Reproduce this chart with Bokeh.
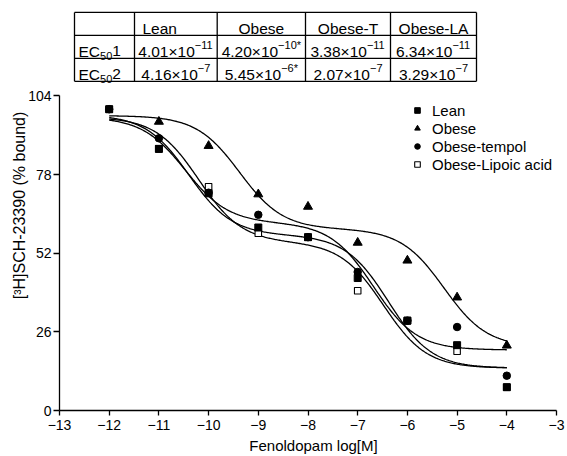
import numpy as np
from bokeh.plotting import figure
from bokeh.models import Range1d, FixedTicker, Legend, LegendItem
from bokeh.core.properties import value
from bokeh.embed import file_html
from bokeh.resources import INLINE

FONT = "Liberation Sans"
NAN = float("nan")

# ---------------- data ----------------
log_conc = [-12, -11, -10, -9, -8, -7, -6, -5, -4]
lean = [99.6, 86.5, 71.8, 60.5, 57.3, 43.8, 29.7, 21.6, 7.7]
obese = [NAN, 95.5, 87.5, 71.5, 67.4, 55.5, 49.6, 37.4, 21.5]
obese_tempol = [99.6, 90.0, 72.0, 64.7, 57.3, 45.8, 29.7, 27.6, 11.5]
obese_lipoic = [99.6, 86.5, 74.0, 58.6, 57.3, 39.6, 29.7, 19.6, 7.7]

# two-site fit parameters (Lean, Obese, Obese-T, Obese-LA)
ec50_1 = [4.01e-11, 4.20e-10, 3.38e-11, 6.34e-11]
ec50_2 = [4.16e-7, 5.45e-6, 2.07e-7, 3.29e-7]
fit_top = [97.8, 97.5, 97.0, 97.0]
fit_bottom = [14.0, 21.0, 20.0, 14.0]
fit_frac1 = [0.475, 0.49, 0.454, 0.498]
fit_range = [-12, -4]

x_ticks = [-13, -12, -11, -10, -9, -8, -7, -6, -5, -4, -3]
x_tick_labels = ["\u221213", "\u221212", "\u221211", "\u221210", "\u22129", "\u22128",
                 "\u22127", "\u22126", "\u22125", "\u22124", "\u22123"]
y_ticks = [0, 26, 52, 78, 104]

# table content
table_cols = ["Lean", "Obese", "Obese-T", "Obese-LA"]
table_rows = ["1", "2"]
ec1_mant = ["4.01", "4.20", "3.38", "6.34"]
ec1_exp = ["\u221211", "\u221210", "\u221211", "\u221211"]
ec1_mark = ["", "*", "", ""]
ec2_mant = ["4.16", "5.45", "2.07", "3.29"]
ec2_exp = ["\u22127", "\u22126", "\u22127", "\u22127"]
ec2_mark = ["", "*", "", ""]

# ---------------- layout (page pixels) ----------------
FIG_W, FIG_H = 567, 456
FRAME_LEFT, FRAME_BOTTOM = 59, 411
PX_X, PX_Y = 49.7, 3.032
X0 = -13
X1 = X0 + (FIG_W - FRAME_LEFT) / PX_X
Y1 = FRAME_BOTTOM / PX_Y

def dx(px):
    return X0 + (px - FRAME_LEFT) / PX_X

def dy(py):
    return (FRAME_BOTTOM - py) / PX_Y

p = figure(width=FIG_W, height=FIG_H, x_range=Range1d(X0, X1), y_range=Range1d(0, Y1),
           output_backend="svg", toolbar_location=None,
           min_border_left=FRAME_LEFT, min_border_right=0, min_border_top=0,
           min_border_bottom=FIG_H - FRAME_BOTTOM)
p.grid.visible = False
p.outline_line_color = None

# ---------------- table ----------------
col_px = [74, 134, 216.7, 305, 390, 476]
row_px = [12, 35, 58, 81]
BASE, SUP = 15.5, 11
AW = {".": .278, "\u00d7": .584, "\u2212": .584, "*": .389, "E": .667, "C": .722}

def tw(s, size):
    return sum(AW.get(ch, .556) for ch in s) * size

p.segment(x0=[dx(c) for c in col_px], x1=[dx(c) for c in col_px],
          y0=[dy(row_px[0])] * len(col_px), y1=[dy(row_px[-1])] * len(col_px),
          line_color="black", line_width=1.3)
p.segment(x0=[dx(col_px[0])] * len(row_px), x1=[dx(col_px[-1])] * len(row_px),
          y0=[dy(r) for r in row_px], y1=[dy(r) for r in row_px],
          line_color="black", line_width=1.3)

BL_UP = 7
base_x, base_y, base_t = [], [], []
sup_x, sup_y, sup_t = [], [], []
hdr_x = [dx((col_px[i + 1] + col_px[i + 2]) / 2) for i in range(len(table_cols))]
hdr_x[0] = dx(col_px[1] + 8)
hdr_y = [dy(row_px[1] - BL_UP)] * len(table_cols)

for r, (mant, exps, marks) in enumerate([(ec1_mant, ec1_exp, ec1_mark),
                                          (ec2_mant, ec2_exp, ec2_mark)]):
    bl = row_px[r + 2] - BL_UP
    x = col_px[0] + 4
    base_x.append(dx(x)); base_y.append(dy(bl)); base_t.append("EC")
    x += tw("EC", BASE)
    sup_x.append(dx(x)); sup_y.append(dy(bl + 5)); sup_t.append("50")
    x += tw("50", SUP)
    base_x.append(dx(x)); base_y.append(dy(bl)); base_t.append(table_rows[r])
    for c in range(len(mant)):
        b = mant[c] + "\u00d710"
        s = exps[c] + marks[c]
        wtot = tw(b, BASE) + tw(s, SUP)
        x = (col_px[c + 1] + col_px[c + 2]) / 2 - wtot / 2
        base_x.append(dx(x)); base_y.append(dy(bl)); base_t.append(b)
        sup_x.append(dx(x + tw(b, BASE))); sup_y.append(dy(bl - 6.5)); sup_t.append(s)

p.text(x=hdr_x[:1], y=hdr_y[:1], text=table_cols[:1], text_font=value(FONT),
       text_font_size="15.5px", text_align="left", text_baseline="alphabetic", text_color="black")
p.text(x=hdr_x[1:], y=hdr_y[1:], text=table_cols[1:], text_font=value(FONT),
       text_font_size="15.5px", text_align="center", text_baseline="alphabetic", text_color="black")
p.text(x=base_x, y=base_y, text=base_t, text_font=value(FONT), text_font_size="15.5px",
       text_align="left", text_baseline="alphabetic", text_color="black")
p.text(x=sup_x, y=sup_y, text=sup_t, text_font=value(FONT), text_font_size="11px",
       text_align="left", text_baseline="alphabetic", text_color="black")

# ---------------- curves and points ----------------
def two_site(x, top, bottom, f, e1, e2):
    return bottom + (top - bottom) * (f / (1 + 10 ** (x - np.log10(e1)))
                                      + (1 - f) / (1 + 10 ** (x - np.log10(e2))))

x_fit = np.linspace(fit_range[0], fit_range[1], 400)
for i in range(len(ec50_1)):
    p.line(x_fit, two_site(x_fit, fit_top[i], fit_bottom[i], fit_frac1[i], ec50_1[i], ec50_2[i]),
           line_color="black", line_width=1.3)

r_la = p.scatter(log_conc, obese_lipoic, marker="square", size=6.5,
                 fill_color="white", line_color="black", line_width=1.1)
r_t = p.scatter(log_conc, obese_tempol, marker="circle", size=7.5,
                fill_color="black", line_color="black")
r_ob = p.scatter(log_conc, obese, marker="triangle", size=9,
                 fill_color="black", line_color="black")
r_lean = p.scatter(log_conc, lean, marker="square", size=7,
                   fill_color="black", line_color="black")

# ---------------- axes ----------------
for ax in (p.xaxis[0], p.yaxis[0]):
    ax.axis_line_width = 1.3
    ax.major_tick_line_width = 1.3
    ax.major_tick_in = 0
    ax.minor_tick_line_color = None
    ax.major_label_text_font = FONT
    ax.major_label_text_font_size = "14px"
    ax.major_label_text_color = "black"
    ax.axis_line_color = "black"
    ax.major_tick_line_color = "black"
    ax.axis_label_text_font = FONT
    ax.axis_label_text_font_style = "normal"
    ax.axis_label_text_color = "black"

p.xaxis.bounds = (x_ticks[0], x_ticks[-1])
p.xaxis.ticker = FixedTicker(ticks=x_ticks)
p.xaxis.major_label_overrides = {t: l for t, l in zip(x_ticks, x_tick_labels)}
p.xaxis.major_tick_out = 5
p.xaxis.major_label_standoff = 4
p.xaxis.axis_label = "Fenoldopam log[M]"
p.xaxis.axis_label_text_font_size = "15px"
p.xaxis.axis_label_standoff = 4

p.yaxis.bounds = (y_ticks[0], y_ticks[-1])
p.yaxis.ticker = FixedTicker(ticks=y_ticks)
p.yaxis.major_tick_out = 6
p.yaxis.major_label_standoff = 2
p.yaxis.axis_label = "[\u00b3H]SCH-23390 (% bound)"
p.yaxis.axis_label_text_font_size = "16px"
p.yaxis.axis_label_standoff = -3

legend = Legend(items=[LegendItem(label="Lean", renderers=[r_lean]),
                       LegendItem(label="Obese", renderers=[r_ob]),
                       LegendItem(label="Obese-tempol", renderers=[r_t]),
                       LegendItem(label="Obese-Lipoic acid", renderers=[r_la])],
                location=(351, 237))
legend.border_line_color = None
legend.background_fill_alpha = 0
legend.glyph_width = 14
legend.glyph_height = 18
legend.label_height = 18
legend.label_standoff = 8
legend.spacing = 0
legend.padding = 0
legend.margin = 0
legend.label_text_font = FONT
legend.label_text_font_size = "15px"
legend.label_text_color = "black"
p.add_layout(legend)

open("out.html", "w").write(file_html(p, INLINE))
